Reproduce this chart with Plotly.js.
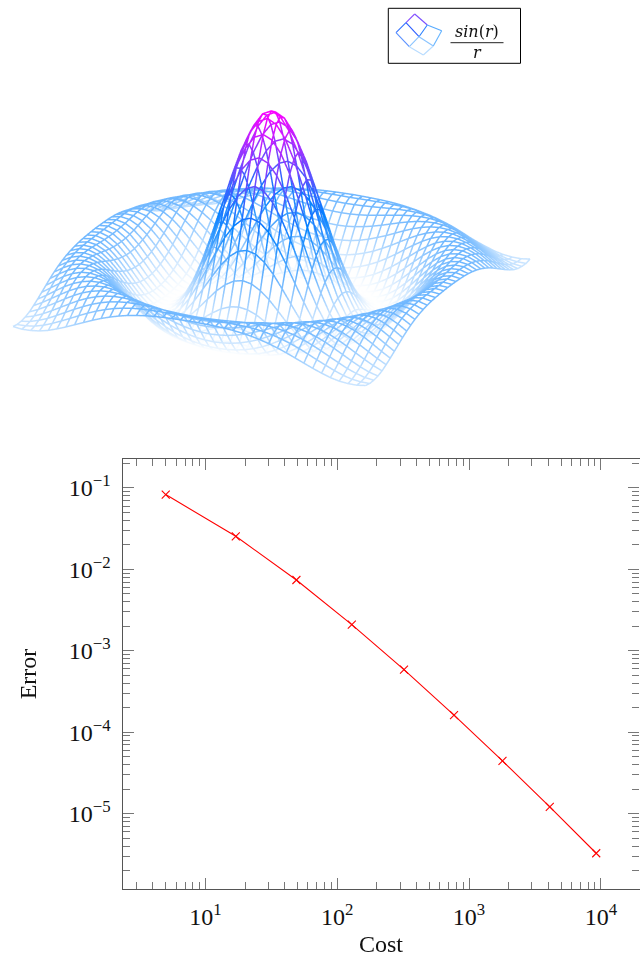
<!DOCTYPE html>
<html><head><meta charset="utf-8">
<script src="https://cdn.plot.ly/plotly-3.0.1.min.js"></script>
<style>html,body{margin:0;padding:0;background:#fff}#c{width:640px;height:957px}</style>
</head><body><div id="c"></div>
<script>
// Lower panel: convergence series
const cost = [5, 17, 49, 129, 321, 769, 1793, 4097, 9217];
const error = [8.31e-2, 2.55e-2, 7.41e-3, 2.10e-3, 5.87e-4, 1.62e-4, 4.44e-5, 1.21e-5, 3.26e-6];
const yTickVals = [1e-5, 1e-4, 1e-3, 1e-2, 1e-1];
const yTickText = ['10<sup>−5</sup>','10<sup>−4</sup>','10<sup>−3</sup>','10<sup>−2</sup>','10<sup>−1</sup>'];
const xTickVals = [1e1, 1e2, 1e3, 1e4];
const xTickText = ['10<sup>1</sup>','10<sup>2</sup>','10<sup>3</sup>','10<sup>4</sup>'];

// Upper panel: mesh sample positions, one quadrant side (0, 0.4, ... 8)
const gridStep = [0,0.4,0.8,1.2,1.6,2,2.4,2.8,3.2,3.6,4,4.4,4.8,5.2,5.6,6,6.4,6.8,7.2,7.6,8];
// Mesh heights: the surface has 8-fold symmetry, row i holds columns 0..i
const meshHeights = [
[1],
[.974,.947],
[.897,.872,.800],
[.777,.754,.688,.585],
[.625,.604,.546,.455,.340],
[.455,.437,.388,.311,.214,.109],
[.281,.268,.227,.165,.088,.006,-.074],
[.120,.109,.078,.032,-.026,-.086,-.141,-.184],
[-.018,-.026,-.047,-.080,-.118,-.156,-.189,-.210,-.217],
[-.123,-.127,-.141,-.160,-.182,-.201,-.214,-.217,-.206,-.182],
[-.189,-.191,-.197,-.206,-.213,-.217,-.214,-.202,-.179,-.146,-.104],
[-.216,-.217,-.217,-.217,-.213,-.205,-.191,-.168,-.137,-.099,-.056,-.010],
[-.208,-.206,-.203,-.196,-.186,-.170,-.148,-.119,-.085,-.047,-.006,.035,.071],
[-.170,-.168,-.162,-.152,-.137,-.117,-.092,-.062,-.029,.007,.042,.074,.101,.119],
[-.113,-.110,-.104,-.092,-.076,-.056,-.031,-.004,.026,.055,.082,.104,.120,.128,.126],
[-.047,-.044,-.038,-.027,-.012,.007,.027,.050,.073,.094,.111,.123,.128,.125,.114,.095],
[.018,.020,.026,.035,.047,.061,.077,.093,.107,.119,.126,.128,.124,.112,.094,.069,.040],
[.073,.074,.078,.084,.093,.102,.111,.119,.125,.128,.127,.120,.107,.089,.066,.038,.009,-.020],
[.110,.111,.113,.116,.120,.124,.127,.128,.127,.122,.113,.099,.081,.058,.033,.006,-.021,-.047,-.067],
[.127,.128,.128,.128,.128,.127,.125,.120,.112,.101,.086,.068,.047,.023,-.002,-.026,-.049,-.069,-.083,-.090],
[.124,.123,.122,.120,.117,.112,.105,.096,.084,.069,.052,.032,.010,-.012,-.034,-.054,-.072,-.084,-.090,-.091,-.084]
];
// Colour stops of the mesh
const meshColors = [[0,'#ffffff'],[0.5,'#0080ff'],[1,'#ff00ff']];
const legendLabel = '<i>sin</i>(<i>r</i>)';
const legendLabelBelow = '<i>r</i>';

const W = 640, H = 957;
const px = x => x / W, py = y => 1 - y / H;
const gridAxis = gridStep.slice(1).reverse().map(v => -v).concat(gridStep);
const heightAt = (a, b) => {
  const i = Math.abs(a - 20), j = Math.abs(b - 20);
  return meshHeights[Math.max(i, j)][Math.min(i, j)];
};
const mx = [], my = [], mz = [], mc = [];
const n = gridAxis.length;
for (let a = 0; a < n; a++) {
  for (let b = 0; b < n; b++) { mx.push(gridAxis[a]); my.push(gridAxis[b]); mz.push(heightAt(a, b)); mc.push(heightAt(a, b)); }
  mx.push(null); my.push(null); mz.push(null); mc.push(0);
}
for (let b = 0; b < n; b++) {
  for (let a = 0; a < n; a++) { mx.push(gridAxis[a]); my.push(gridAxis[b]); mz.push(heightAt(a, b)); mc.push(heightAt(a, b)); }
  mx.push(null); my.push(null); mz.push(null); mc.push(0);
}

const serif = '"Liberation Serif", serif';
const traces = [
  { type: 'scatter', mode: 'lines+markers', x: cost, y: error, xaxis: 'x', yaxis: 'y', showlegend: false,
    line: { color: '#ff0000', width: 1.1 },
    marker: { symbol: 'x-thin', size: 8, line: { color: '#ff0000', width: 1.1 } } },
  { type: 'scatter3d', mode: 'lines', x: mx, y: my, z: mz, connectgaps: false, hoverinfo: 'skip', showlegend: false,
    line: { width: 3, color: mc, colorscale: meshColors, cmin: -0.217, cmax: 1, showscale: false } }
];
const seg = (p, q, c) => ({ type: 'line', xref: 'paper', yref: 'paper', x0: px(p[0]), y0: py(p[1]), x1: px(q[0]), y1: py(q[1]), line: { color: c, width: 1.1 } });
const A=[414.7,14],B=[427.3,25],C=[441.7,30.7],D=[406,22.7],E=[419,36.7],F=[433.3,46],G=[396,32.7],I=[409.3,46.7],J=[423.3,55];
const shapes = [
  { type:'rect', xref:'paper', yref:'paper', x0:px(388.3), x1:px(520.5), y0:py(63.3), y1:py(8.3), line:{color:'#000',width:1}, fillcolor:'#fff', layer:'below' },
  seg(A,B,'#7a50ff'), seg(A,D,'#8a50ff'), seg(D,G,'#3070ff'), seg(D,E,'#2a5cff'), seg(B,E,'#2a80ff'), seg(B,C,'#55aaff'),
  seg(G,I,'#5a90ff'), seg(E,I,'#8ac4ff'), seg(E,F,'#8ac4ff'), seg(C,F,'#66b4ff'), seg(I,J,'#b8dcff'), seg(F,J,'#b8dcff'),
  { type:'line', xref:'paper', yref:'paper', x0:px(450.5), x1:px(503.5), y0:py(42.7), y1:py(42.7), line:{color:'#222',width:1} }
];
const tickGrey = '#777';
const axisCommon = {
  type: 'log', showgrid: false, zeroline: false, showline: true, linecolor: '#555', linewidth: 1.2, mirror: 'allticks',
  ticks: 'inside', ticklen: 11, tickwidth: 1, tickcolor: tickGrey,
  tickfont: { family: serif, size: 24, color: '#111' }, tickmode: 'array',
  minor: { ticks: 'inside', ticklen: 7, tickwidth: 1, tickcolor: tickGrey, dtick: 'D1', showgrid: false }
};
const layout = {
  width: W, height: H, margin: { l: 0, r: 0, t: 0, b: 0 }, paper_bgcolor: '#fff', plot_bgcolor: '#fff', showlegend: false,
  font: { family: serif, color: '#111' },
  scene: {
    domain: { x: [0, 543 / W], y: [1 - 426 / H, 1] },
    xaxis: { visible: false, range: [-8, 8] }, yaxis: { visible: false, range: [-8, 8] }, zaxis: { visible: false, range: [-0.217, 1] },
    aspectmode: 'manual', aspectratio: { x: 1.827, y: 1.827, z: 1.027 },
    bgcolor: 'rgba(0,0,0,0)',
    camera: { projection: { type: 'orthographic' }, up: { x: 0, y: 0, z: 1 }, center: { x: 0, y: 0, z: 0 },
      eye: { x: 1.268, y: -2.718, z: 1.152 } }
  },
  xaxis: Object.assign({}, axisCommon, { domain: [px(122.5), px(639.5)], anchor: 'y',
    range: [0.371, 4.293], tickvals: xTickVals, ticktext: xTickText, ticklabelstandoff: 6,
    title: { text: 'Cost', standoff: 14, font: { family: serif, size: 24, color: '#111' } } }),
  yaxis: Object.assign({}, axisCommon, { domain: [py(889), py(459)], anchor: 'x',
    range: [-5.926, -0.644], tickvals: yTickVals, ticktext: yTickText, ticklabelstandoff: 6,
    title: { text: 'Error', standoff: 25, font: { family: serif, size: 24, color: '#111' } } }),
  shapes,
  annotations: [
    { xref:'paper', yref:'paper', x:px(477), y:py(32), text:legendLabel, showarrow:false, font:{family:'"DejaVu Serif", serif',size:16,color:'#111'}, xanchor:'center', yanchor:'middle' },
    { xref:'paper', yref:'paper', x:px(477), y:py(52), text:legendLabelBelow, showarrow:false, font:{family:'"DejaVu Serif", serif',size:16,color:'#111'}, xanchor:'center', yanchor:'middle' }
  ]
};
Plotly.newPlot('c', traces, layout, { displayModeBar: false });
</script></body></html>
